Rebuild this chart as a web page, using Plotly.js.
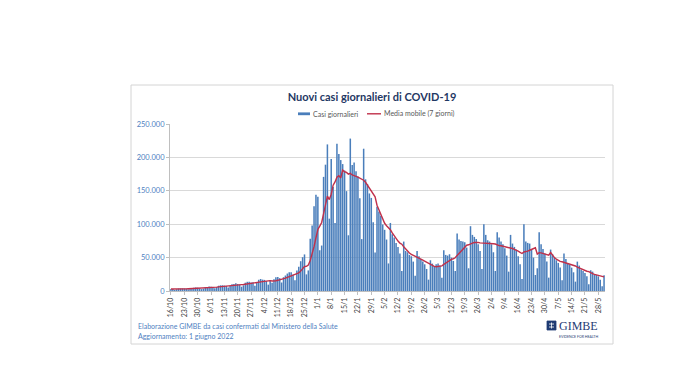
<!DOCTYPE html>
<html>
<head>
<meta charset="utf-8">
<script src="https://cdn.plot.ly/plotly-3.0.1.min.js"></script>
<style>html,body{margin:0;padding:0;background:#fff;}#chart{width:700px;height:391px;}</style>
</head>
<body>
<div id="chart"></div>
<script>
// First day of the series (16 ottobre 2021), one value per day up to 31 maggio 2022
const startDate = '2021-10-16';

// Nuovi casi giornalieri, weekly rows Sat..Fri
const dailyCases = [
  3083, 2983, 1597, 2697, 3702, 3794, 3882,
  3725, 3306, 2535, 3385, 4598, 4866, 5335,
  5031, 4224, 2818, 3597, 5559, 5905, 6764,
  6400, 5823, 4197, 6032, 7891, 8516, 8544,
  8112, 7569, 5144, 7698, 10172, 10638, 11555,
  10544, 9709, 6404, 8516, 12448, 13764, 13686,
  12877, 12932, 7975, 12764, 16806, 17959, 17030,
  16632, 15021, 9503, 15756, 12527, 17762, 20497,
  21042, 19215, 12712, 20677, 23195, 26109, 28064,
  27965, 24259, 16213, 30798, 36293, 44595, 50599,
  54762, 24883, 30810, 78313, 98020, 126888, 144243,
  141262, 61046, 68052, 170844, 189109, 219441, 108304,
  197552, 155659, 101762, 220532, 205000, 196000, 190000,
  180426, 149512, 83403, 228179, 188797, 192320, 179106,
  171263, 138860, 77696, 213000, 167206, 160000, 146000,
  139370, 103000, 57715, 126000, 118994, 112691, 99522,
  91623, 77029, 41247, 101864, 85000, 80000, 72000,
  66000, 56000, 30000, 74000, 60000, 58000, 54000,
  52000, 44000, 23000, 60000, 52000, 48000, 44000,
  40000, 33000, 17000, 46000, 41000, 37500, 40000,
  41000, 38000, 20000, 61000, 54000, 53000, 55000,
  50000, 45000, 30000, 86000, 77000, 75000, 74000,
  73000, 65000, 34000, 97000, 84000, 81000, 78000,
  70000, 60000, 33000, 100000, 84000, 76000, 74000,
  70000, 58000, 30000, 88000, 80000, 74000, 70000,
  64000, 53000, 29000, 84000, 71000, 66000, 62000,
  52000, 40000, 18000, 100000, 74000, 72000, 71000,
  62000, 50000, 24000, 34000, 88000, 70000, 63000,
  56000, 44000, 20000, 62000, 55000, 50000, 46000,
  42000, 35000, 16000, 56000, 48000, 42000, 39000,
  35000, 28000, 14000, 44000, 38000, 32000, 30000,
  27000, 22000, 10000, 31000, 29000, 25000, 24000,
  22000, 17000, 7000, 23500
];

// Series names
const seriesNames = ['Casi giornalieri', 'Media mobile (7 giorni)'];

// X tick labels (every 7 days)
const xTickLabels = ['16/10','23/10','30/10','6/11','13/11','20/11','27/11','4/12','11/12','18/12','25/12',
  '1/1','8/1','15/1','22/1','29/1','5/2','12/2','19/2','26/2','5/3','12/3','19/3','26/3',
  '2/4','9/4','16/4','23/4','30/4','7/5','14/5','21/5','28/5'];

// Y tick values and labels
const yTickVals = [0, 50000, 100000, 150000, 200000, 250000];
const yTickLabels = ['0', '50.000', '100.000', '150.000', '200.000', '250.000'];

function pad(n){return (n<10?'0':'')+n;}
function isoOf(d){return d.getUTCFullYear()+'-'+pad(d.getUTCMonth()+1)+'-'+pad(d.getUTCDate());}

const dates = [];
const d0 = new Date(startDate + 'T00:00:00Z');
for (let i = 0; i < dailyCases.length; i++) {
  dates.push(isoOf(new Date(d0.getTime() + i * 86400000)));
}
// 7-day trailing moving average (Media mobile 7 giorni)
const movingAvg = dailyCases.map((v, i) => {
  const s = Math.max(0, i - 6);
  const w = dailyCases.slice(s, i + 1);
  return w.reduce((a, b) => a + b, 0) / w.length;
});

const xTickVals = xTickLabels.map(t => {
  const [dd, mm] = t.split('/').map(Number);
  const yy = mm >= 10 ? 2021 : 2022;
  return yy + '-' + pad(mm) + '-' + pad(dd);
});

// pixel -> paper helpers
const L = 170, R = 605, T = 124, B = 291;
const PX = p => (p - L) / (R - L);
const PY = p => (B - p) / (B - T);

const fontFam = 'Lato, "Liberation Sans", sans-serif';
const barColor = '#4a7ebb';
const lineColor = '#c0304a';

const traces = [
  {
    type: 'bar', name: seriesNames[0], x: dates, y: dailyCases,
    marker: {color: barColor, line: {width: 0}},
    hoverinfo: 'skip'
  },
  {
    type: 'scatter', mode: 'lines', name: seriesNames[1], x: dates, y: movingAvg,
    line: {color: lineColor, width: 1.4},
    hoverinfo: 'skip'
  }
];

const layout = {
  width: 700, height: 391,
  margin: {l: L, r: 700 - R, t: T, b: 391 - B, pad: 0},
  paper_bgcolor: '#ffffff', plot_bgcolor: '#ffffff',
  font: {family: fontFam, size: 7, color: '#595959'},
  title: {
    text: '<b>Nuovi casi giornalieri di COVID-19</b>',
    font: {family: fontFam, size: 11, color: '#1f3864'},
    x: 372 / 700, xanchor: 'center', xref: 'container',
    y: 1 - 97 / 391, yanchor: 'middle', yref: 'container'
  },
  bargap: 0.2,
  showlegend: false,
  xaxis: {
    type: 'date',
    range: ['2021-10-15 12:00', '2022-05-31 12:00'],
    tickvals: xTickVals, ticktext: xTickLabels,
    tickangle: -90,
    tickfont: {family: fontFam, size: 7, color: '#404040'},
    showgrid: false, zeroline: false,
    showline: true, linecolor: '#bfbfbf', linewidth: 1,
    ticks: 'outside', ticklen: 3, tickcolor: '#bfbfbf',
    fixedrange: true
  },
  yaxis: {
    range: [0, 250000],
    tickvals: yTickVals, ticktext: yTickLabels,
    tickfont: {family: fontFam, size: 7.5, color: '#4f7fbf'},
    showgrid: true, gridcolor: '#d9d9d9', gridwidth: 1,
    zeroline: false,
    showline: true, linecolor: '#bfbfbf', linewidth: 1,
    ticks: 'outside', ticklen: 3, tickcolor: '#bfbfbf',
    fixedrange: true
  },
  shapes: [
    {type: 'rect', xref: 'paper', yref: 'paper', x0: PX(131), x1: PX(613), y0: PY(344), y1: PY(85),
     line: {color: '#d4d4d4', width: 1}, fillcolor: 'rgba(0,0,0,0)', layer: 'below'},
    // legend swatches
    {type: 'rect', xref: 'paper', yref: 'paper', x0: PX(298), x1: PX(310), y0: PY(115.2), y1: PY(112.4),
     line: {width: 0}, fillcolor: barColor},
    {type: 'line', xref: 'paper', yref: 'paper', x0: PX(367), x1: PX(381), y0: PY(113.8), y1: PY(113.8),
     line: {color: lineColor, width: 1.4}},
    // logo icon
    {type: 'rect', xref: 'paper', yref: 'paper', x0: PX(547), x1: PX(556), y0: PY(330), y1: PY(321),
     line: {color: '#1f3b73', width: 0.8}, fillcolor: '#1f3b73'},
    {type: 'line', xref: 'paper', yref: 'paper', x0: PX(549), x1: PX(554), y0: PY(324), y1: PY(324),
     line: {color: '#ffffff', width: 0.8}},
    {type: 'line', xref: 'paper', yref: 'paper', x0: PX(549), x1: PX(554), y0: PY(327), y1: PY(327),
     line: {color: '#ffffff', width: 0.8}},
    {type: 'line', xref: 'paper', yref: 'paper', x0: PX(551.5), x1: PX(551.5), y0: PY(322.5), y1: PY(328.5),
     line: {color: '#ffffff', width: 0.8}}
  ],
  annotations: [
    {text: seriesNames[0], xref: 'paper', yref: 'paper',
     x: PX(311), y: PY(113.8), xanchor: 'left', yanchor: 'middle', showarrow: false,
     font: {family: fontFam, size: 7, color: '#595959'}},
    {text: seriesNames[1], xref: 'paper', yref: 'paper',
     x: PX(382), y: PY(113.8), xanchor: 'left', yanchor: 'middle', showarrow: false,
     font: {family: fontFam, size: 7, color: '#595959'}},
    {text: 'Elaborazione GIMBE da casi confermati dal Ministero della Salute', xref: 'paper', yref: 'paper',
     x: PX(136), y: PY(326), xanchor: 'left', yanchor: 'middle', showarrow: false,
     font: {family: fontFam, size: 7, color: '#4f7fbf'}},
    {text: 'Aggiornamento: 1 giugno 2022', xref: 'paper', yref: 'paper',
     x: PX(136), y: PY(336), xanchor: 'left', yanchor: 'middle', showarrow: false,
     font: {family: fontFam, size: 7, color: '#4f7fbf'}},
    {text: 'GIMBE', xref: 'paper', yref: 'paper',
     x: PX(557), y: PY(326), xanchor: 'left', yanchor: 'middle', showarrow: false,
     font: {family: '"Liberation Serif", serif', size: 12, color: '#1f3b73'}},
    {text: 'EVIDENCE FOR HEALTH', xref: 'paper', yref: 'paper',
     x: PX(578), y: PY(336.5), xanchor: 'center', yanchor: 'middle', showarrow: false,
     font: {family: fontFam, size: 3.5, color: '#1f3b73'}}
  ]
};

Plotly.newPlot('chart', traces, layout, {displayModeBar: false, staticPlot: true});
</script>
</body>
</html>
